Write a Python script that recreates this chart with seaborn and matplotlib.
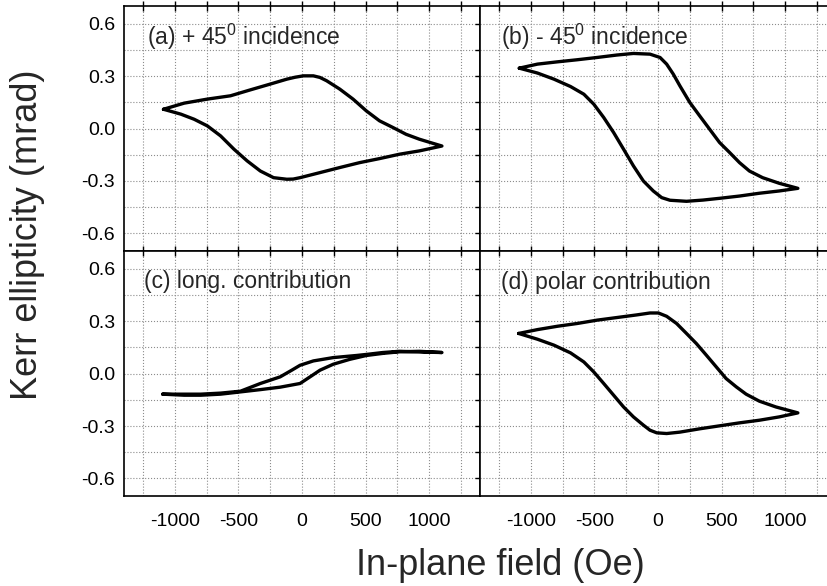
import numpy as np
import pandas as pd
import matplotlib
matplotlib.use("Agg")
import matplotlib.pyplot as plt
import seaborn as sns

# hysteresis loops: field (Oe) and Kerr ellipticity (mrad)
# each loop goes round once and ends where it started
field_a = [-1090, -927, -745, -563, -406, -250, -120, -55, 10, 89, 140, 193, 297,
           401, 505, 609, 714, 818, 922, 1026, 1100, 922, 766, 609, 453, 297, 141,
           -16, -70, -120, -224, -328, -432, -536, -641, -745, -849, -953, -1090]
kerr_a = [0.110, 0.145, 0.168, 0.187, 0.221, 0.254, 0.282, 0.293, 0.301, 0.301,
          0.292, 0.273, 0.225, 0.168, 0.101, 0.044, 0.006, -0.033, -0.061, -0.084,
          -0.100, -0.128, -0.147, -0.172, -0.195, -0.223, -0.252, -0.281, -0.289,
          -0.290, -0.281, -0.243, -0.185, -0.118, -0.042, 0.015, 0.053, 0.082,
          0.110]

field_b = [-1091, -948, -792, -635, -479, -323, -193, -63, 16, 68, 120, 172, 250,
           328, 406, 484, 563, 641, 719, 823, 953, 1100, 953, 797, 641, 484, 354,
           224, 94, 29, -37, -115, -193, -271, -349, -427, -505, -583, -688, -818,
           -948, -1091]
kerr_b = [0.345, 0.368, 0.381, 0.393, 0.406, 0.420, 0.429, 0.425, 0.406, 0.368,
          0.311, 0.244, 0.149, 0.072, -0.004, -0.080, -0.137, -0.195, -0.243,
          -0.281, -0.313, -0.342, -0.357, -0.370, -0.386, -0.399, -0.409, -0.416,
          -0.410, -0.395, -0.357, -0.300, -0.214, -0.118, -0.023, 0.063, 0.139,
          0.196, 0.240, 0.282, 0.317, 0.345]

field_c = [-1096, -927, -797, -641, -484, -328, -172, -16, 63, 141, 245, 375, 505,
           635, 766, 922, 1100, 922, 766, 635, 505, 427, 245, 89, -16, -81, -172,
           -328, -484, -641, -797, -927, -1096]
kerr_c = [-0.118, -0.124, -0.124, -0.118, -0.105, -0.092, -0.078, -0.057, -0.019,
          0.019, 0.053, 0.081, 0.103, 0.115, 0.124, 0.127, 0.120, 0.123, 0.127,
          0.120, 0.109, 0.103, 0.091, 0.072, 0.047, 0.019, -0.019, -0.057, -0.101,
          -0.112, -0.118, -0.118, -0.118]

field_d = [-1096, -948, -792, -635, -479, -323, -167, -63, 3, 68, 146, 224, 302,
           380, 458, 536, 615, 693, 797, 927, 1100, 953, 797, 641, 484, 328, 172,
           68, -10, -63, -115, -193, -271, -349, -427, -505, -583, -688, -818,
           -948, -1096]
kerr_d = [0.229, 0.251, 0.270, 0.286, 0.305, 0.320, 0.335, 0.346, 0.346, 0.327,
          0.286, 0.229, 0.171, 0.105, 0.038, -0.029, -0.076, -0.118, -0.158,
          -0.191, -0.225, -0.248, -0.267, -0.282, -0.299, -0.316, -0.335, -0.343,
          -0.339, -0.324, -0.295, -0.248, -0.191, -0.124, -0.057, 0.009, 0.066,
          0.118, 0.162, 0.196, 0.229]

panel_labels = ["(a) + 45$^{\\mathregular{0}}$ incidence",
                "(b) - 45$^{\\mathregular{0}}$ incidence",
                "(c) long. contribution",
                "(d) polar contribution"]

sns.set_style("white")
plt.rcParams["font.family"] = ["Liberation Sans", "DejaVu Sans"]
plt.rcParams["axes.unicode_minus"] = False

fig = plt.figure(figsize=(8.27, 5.86), dpi=100)

# axes boxes in figure fractions; the right column runs a little past the edge
left_x, right_x, col_w = 0.150, 0.5804, 0.4305
top_y, bot_y, row_h = 0.5717, 0.1536, 0.418
boxes = [(left_x, top_y), (right_x, top_y), (left_x, bot_y), (right_x, bot_y)]
loops = [(field_a, kerr_a), (field_b, kerr_b), (field_c, kerr_c), (field_d, kerr_d)]
label_pos = [(0.065, 0.875), (0.06, 0.875), (0.055, 0.875), (0.06, 0.87)]

xt = np.arange(-1250, 1251, 250)
yt = np.arange(-0.6, 0.61, 0.15)

for i, ((x0, y0), (fx, ky)) in enumerate(zip(boxes, loops)):
    ax = fig.add_axes([x0, y0, col_w, row_h])
    df = pd.DataFrame({"field": fx, "kerr": ky})
    sns.lineplot(data=df, x="field", y="kerr", sort=False, estimator=None,
                 color="black", lw=2.4, ax=ax)
    ax.set_xlim(-1400, 1400)
    ax.set_ylim(-0.7, 0.7)
    ax.set_xticks(xt)
    ax.set_yticks(yt)
    ax.set_xticklabels([str(int(v)) if v % 500 == 0 else "" for v in xt])
    ax.set_yticklabels([f"{v:.1f}" if abs(round(v / 0.3) * 0.3 - v) < 1e-6 else ""
                        for v in yt])
    ax.grid(True, linestyle=":", color="0.55", lw=0.8)
    ax.tick_params(direction="inout", length=7, width=1, top=True, right=True,
                   labelsize=14, colors="black")
    ax.tick_params(axis="x", pad=9)
    ax.tick_params(axis="y", pad=3)
    ax.tick_params(labelbottom=(i >= 2), labelleft=(i % 2 == 0))
    for s in ax.spines.values():
        s.set_color("black")
        s.set_linewidth(1.2)
    ax.set_xlabel("")
    ax.set_ylabel("")
    ax.text(label_pos[i][0], label_pos[i][1], panel_labels[i],
            transform=ax.transAxes, fontsize=16.5, va="center", ha="left")

fig.text(0.605, 0.035, "In-plane field (Oe)", fontsize=26, ha="center", va="center")
fig.text(0.033, 0.6, "Kerr ellipticity (mrad)", fontsize=26, rotation=90,
         ha="center", va="center")

fig.savefig("out.png", dpi=100)
